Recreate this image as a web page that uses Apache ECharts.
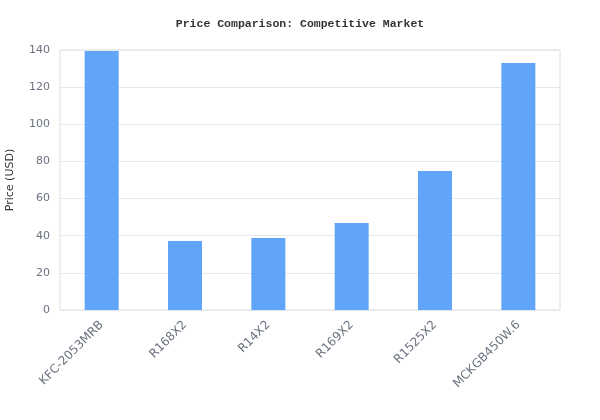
<!DOCTYPE html>
<html>
<head>
<meta charset="utf-8">
<script src="https://cdn.jsdelivr.net/npm/echarts@6/dist/echarts.min.js"></script>
<style>html,body{margin:0;padding:0;background:#fff}#c{width:600px;height:420px}</style>
</head>
<body>
<div id="c"></div>
<script>
const categories = ["KFC-2053MRB", "R168X2", "R14X2", "R169X2", "R1525X2", "MCKGB450W.6"];
const prices = [139.5, 37.2, 38.8, 46.9, 74.9, 133.0];
const yTicks = [0, 20, 40, 60, 80, 100, 120, 140];

const chart = echarts.init(document.getElementById('c'));
chart.setOption({
  animation: false,
  backgroundColor: '#fff',
  title: {
    text: 'Price Comparison: Competitive Market',
    left: 'center',
    top: 13,
    textStyle: { fontFamily: 'Liberation Mono', fontSize: 11.5, fontWeight: 'bold', color: '#333' }
  },
  grid: { left: 60, right: 40, top: 50, bottom: 110, show: true, borderColor: '#ddd', borderWidth: 1, outerBoundsMode: 'none', containLabel: false },
  xAxis: {
    type: 'category',
    data: categories,
    axisLine: { show: false },
    axisTick: { show: false },
    axisLabel: { rotate: 45, color: '#6b7280', fontFamily: 'DejaVu Sans', fontSize: 12, interval: 0, margin: 13 }
  },
  yAxis: {
    type: 'value',
    min: yTicks[0],
    max: yTicks[yTicks.length - 1],
    interval: 20,
    name: 'Price (USD)',
    nameLocation: 'middle',
    nameGap: 44,
    nameTextStyle: { color: '#333', fontFamily: 'DejaVu Sans', fontSize: 11 },
    axisLine: { show: false },
    axisTick: { show: false },
    axisLabel: { color: '#6b7280', fontFamily: 'DejaVu Sans', fontSize: 11, margin: 10 },
    splitLine: { lineStyle: { color: '#e5e7eb' } }
  },
  series: [{
    type: 'bar',
    data: prices,
    barWidth: 34,
    itemStyle: { color: '#60a5fa' }
  }]
});
</script>
</body>
</html>
